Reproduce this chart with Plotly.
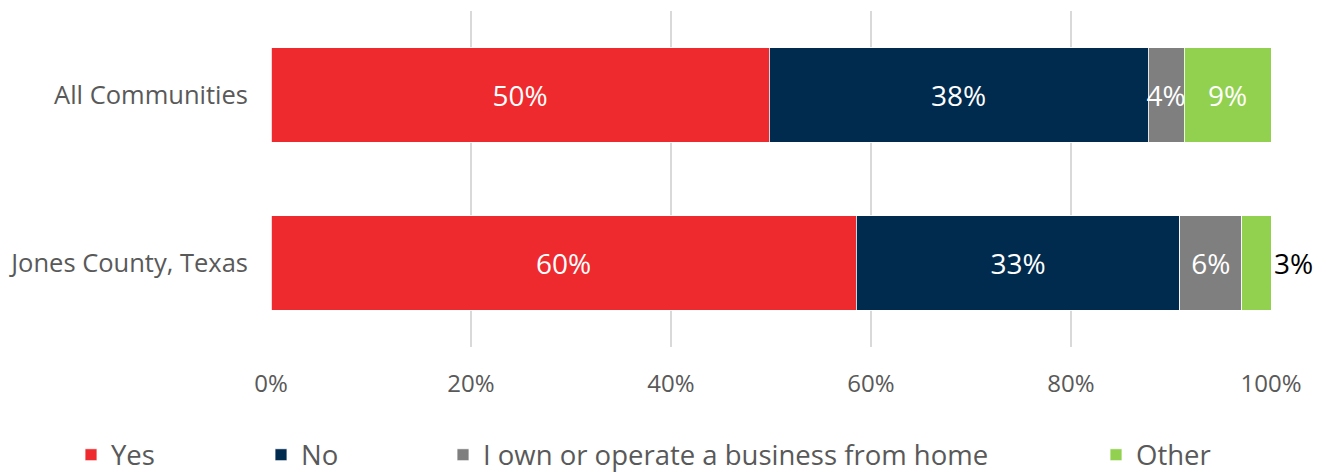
import plotly.graph_objects as go

categories = ["All Communities", "Jones County, Texas"]
series_names = ["Yes", "No", "I own or operate a business from home", "Other"]
yes_vals = [49.8, 59.7]
no_vals = [37.9, 33.0]
business_vals = [3.6, 6.3]
other_vals = [8.7, 3.0]
tick_vals = [0, 20, 40, 60, 80, 100]
tick_labels = ["0%", "20%", "40%", "60%", "80%", "100%"]

colors = ["#EE2A2E", "#002B4F", "#7F7F7F", "#92D050"]
series_values = [yes_vals, no_vals, business_vals, other_vals]
legend_ids = ["legend", "legend2", "legend3", "legend4"]
legend_x = [-0.200, -0.010, 0.172, 0.825]

FONT = "Open Sans"
GRAY = "#595959"
TICK_FS = 24
CAT_FS = 25.5
LABEL_FS = 28
LEGEND_FS = 27.5

fig = go.Figure()
for i, (name, vals) in enumerate(zip(series_names, series_values)):
    is_last = i == len(series_names) - 1
    positions = ["inside", "outside"] if is_last else "inside"
    fig.add_trace(go.Bar(
        y=categories,
        x=vals,
        name=name,
        orientation="h",
        marker=dict(color=colors[i], line=dict(color="white", width=0.8)),
        text=[f"{v:.0f}%" for v in vals],
        textposition=positions,
        textangle=0,
        insidetextanchor="middle",
        insidetextfont=dict(color="white", size=LABEL_FS, family=FONT),
        outsidetextfont=dict(color="black", size=LABEL_FS, family=FONT),
        cliponaxis=False,
        legend=legend_ids[i],
        hoverinfo="skip",
    ))

layout_legends = {}
for i, lid in enumerate(legend_ids):
    layout_legends[lid] = dict(
        x=legend_x[i], y=-0.321, xanchor="left", yanchor="middle",
        orientation="h", font=dict(size=LEGEND_FS, color=GRAY, family=FONT),
        bgcolor="rgba(0,0,0,0)", itemclick=False, itemdoubleclick=False,
    )

fig.update_layout(
    width=1320, height=464,
    margin=dict(l=263, r=57, t=3, b=125, autoexpand=False),
    barmode="stack",
    barnorm="percent",
    bargap=0.435,
    plot_bgcolor="white",
    paper_bgcolor="white",
    font=dict(family=FONT, size=TICK_FS, color=GRAY),
    uniformtext=dict(minsize=LABEL_FS, mode="show"),
    showlegend=True,
    **layout_legends,
)
fig.update_xaxes(
    range=[0, 100], tickvals=tick_vals, ticktext=tick_labels,
    showgrid=True, gridcolor="#D9D9D9", gridwidth=2,
    zeroline=False, showline=False, ticks="", ticklabelstandoff=20,
    tickfont=dict(size=TICK_FS, color=GRAY, family=FONT), fixedrange=True,
    automargin=False,
)
fig.update_yaxes(
    categoryorder="array", categoryarray=categories, autorange="reversed",
    showgrid=False, zeroline=False, showline=False, ticks="",
    ticklabelstandoff=22,
    tickfont=dict(size=CAT_FS, color=GRAY, family=FONT), fixedrange=True,
    automargin=False,
)

fig.write_html("out.html", config={"displayModeBar": False})
